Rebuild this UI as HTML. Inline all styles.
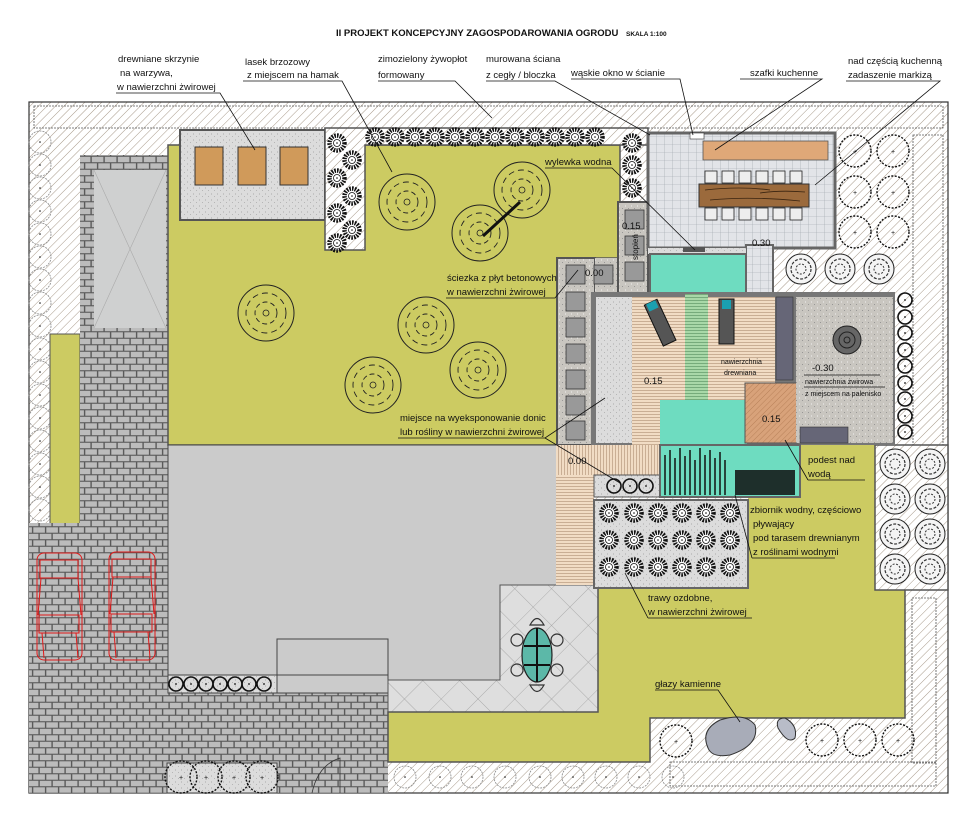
<!DOCTYPE html>
<html><head><meta charset="utf-8"><style>
html,body{margin:0;padding:0;background:#fff}
svg{display:block}
text{font-family:"Liberation Sans",sans-serif;font-size:9.5px;fill:#111}
</style></head><body>
<svg width="973" height="825" viewBox="0 0 973 825" xmlns="http://www.w3.org/2000/svg">
<defs>
<pattern id="hatch" width="6" height="6" patternUnits="userSpaceOnUse" patternTransform="rotate(45)"><rect width="6" height="6" fill="#fff"/><line x1="0" y1="0" x2="0" y2="6" stroke="#a89a8a" stroke-width="1"/></pattern>
<pattern id="brick" width="13" height="13" patternUnits="userSpaceOnUse"><rect width="13" height="13" fill="#5a5a5a"/><rect x="0.8" y="0.8" width="11.6" height="5.4" fill="#bcbcbc"/><rect x="-5.7" y="7.3" width="11.6" height="5.4" fill="#bcbcbc"/><rect x="7.3" y="7.3" width="11.6" height="5.4" fill="#bcbcbc"/></pattern>
<pattern id="tile" width="8" height="8" patternUnits="userSpaceOnUse"><rect width="8" height="8" fill="#e2e4e8"/><path d="M0 0H8M0 0V8" stroke="#9aa0a8" stroke-width="0.6"/></pattern>
<pattern id="gravel" width="6" height="6" patternUnits="userSpaceOnUse"><rect width="6" height="6" fill="#dcdcdc"/><circle cx="1.5" cy="2" r="0.5" fill="#999"/><circle cx="4.5" cy="4.5" r="0.5" fill="#aaa"/></pattern>
<pattern id="gravel2" width="6" height="6" patternUnits="userSpaceOnUse"><rect width="6" height="6" fill="#c9c6c0"/><circle cx="1.5" cy="2" r="0.5" fill="#fff"/><circle cx="4.5" cy="4.5" r="0.5" fill="#888"/></pattern>
<pattern id="woodh" width="4" height="3" patternUnits="userSpaceOnUse"><rect width="4" height="3" fill="#f1dcc4"/><line x1="0" y1="0.5" x2="4" y2="0.5" stroke="#b89a80" stroke-width="0.7"/></pattern>
<pattern id="woodv" width="3" height="4" patternUnits="userSpaceOnUse"><rect width="3" height="4" fill="#f1dcc4"/><line x1="0.5" y1="0" x2="0.5" y2="4" stroke="#b89a80" stroke-width="0.7"/></pattern>
<pattern id="greenstr" width="4" height="3" patternUnits="userSpaceOnUse"><rect width="4" height="3" fill="#a8d8a8"/><line x1="0" y1="0.5" x2="4" y2="0.5" stroke="#6aa070" stroke-width="0.8"/></pattern>
<pattern id="podest" width="4" height="4" patternUnits="userSpaceOnUse" patternTransform="rotate(45)"><rect width="4" height="4" fill="#d8a27a"/><line x1="0" y1="0" x2="0" y2="4" stroke="#b07850" stroke-width="0.8"/></pattern>
<pattern id="diam" width="26" height="26" patternUnits="userSpaceOnUse" patternTransform="rotate(45)"><rect width="26" height="26" fill="#dedede"/><path d="M0 0H26M0 0V26" stroke="#999" stroke-width="0.7"/></pattern>
<g id="tree"><circle r="28" fill="none" stroke="#222" stroke-width="1"/><circle r="20" fill="none" stroke="#222" stroke-width="0.9" stroke-dasharray="6 4"/><circle r="11" fill="none" stroke="#222" stroke-width="0.9" stroke-dasharray="5 3"/><circle r="3" fill="none" stroke="#222" stroke-width="0.8"/></g>
<g id="shrub"><circle r="7.5" fill="#fff" stroke="#111" stroke-width="4.5" stroke-dasharray="1.6 1.1"/><circle r="3.5" fill="#fff" stroke="#111" stroke-width="0.8"/><circle r="0.8" fill="#111"/></g>
<g id="ring"><circle r="7" fill="none" stroke="#111" stroke-width="1.6"/><circle r="0.9" fill="#111"/></g>
<g id="big"><circle r="16" fill="none" stroke="#111" stroke-width="1.4" stroke-dasharray="2 1.5"/><text x="-2" y="3" style="font-size:7px">+</text></g>
<g id="swirl"><circle r="15" fill="#f4f4f4" stroke="#222" stroke-width="1"/><circle r="10" fill="none" stroke="#333" stroke-width="1.2" stroke-dasharray="3 1.5"/><circle r="5" fill="none" stroke="#333" stroke-width="1" stroke-dasharray="2 1.5"/></g>
<g id="hedge"><circle r="11" fill="none" stroke="#888" stroke-width="0.8" stroke-dasharray="2 1"/><circle r="0.8" fill="#111"/></g>
</defs>

<text x="336" y="36" style="font-weight:bold;font-size:9.5px">II PROJEKT KONCEPCYJNY ZAGOSPODAROWANIA OGRODU</text>
<text x="626" y="36" style="font-weight:bold;font-size:6.5px">SKALA 1:100</text>

<rect x="29" y="102" width="919" height="691" fill="url(#hatch)" stroke="#333" stroke-width="1.2"/>
<rect x="34" y="106" width="909" height="22" fill="none" stroke="#555" stroke-width="0.8" stroke-dasharray="2 1"/>
<g>
<use href="#hedge" x="40" y="142"/><use href="#hedge" x="40" y="165"/><use href="#hedge" x="40" y="188"/><use href="#hedge" x="40" y="211"/><use href="#hedge" x="40" y="234"/><use href="#hedge" x="40" y="257"/><use href="#hedge" x="40" y="280"/><use href="#hedge" x="40" y="303"/><use href="#hedge" x="40" y="326"/><use href="#hedge" x="40" y="349"/><use href="#hedge" x="40" y="372"/><use href="#hedge" x="40" y="395"/><use href="#hedge" x="40" y="418"/><use href="#hedge" x="40" y="441"/><use href="#hedge" x="40" y="464"/><use href="#hedge" x="40" y="487"/><use href="#hedge" x="40" y="510"/>
</g>
<rect x="50" y="334" width="30" height="190" fill="#cccb62" stroke="#555" stroke-width="1"/>
<rect x="29" y="523" width="139" height="270" fill="url(#brick)"/>
<rect x="80" y="155" width="100" height="368" fill="url(#brick)"/>
<rect x="168" y="693" width="220" height="100" fill="url(#brick)"/>
<rect x="94" y="170" width="72" height="158" fill="#cfd0d0"/>
<path d="M94 170L166 328M166 170L94 328" stroke="#aaa" stroke-width="0.6"/>
<g fill="none" stroke="#e01818" stroke-width="1">
<rect x="37" y="553" width="45" height="107" rx="7"/><rect x="40" y="560" width="38" height="18"/><rect x="39" y="615" width="40" height="18"/><path d="M41 578L38 615M78 578L81 615M42 633L44 658M76 633L78 658"/>
<rect x="109" y="552" width="46" height="108" rx="7"/><rect x="112" y="559" width="39" height="18"/><rect x="111" y="614" width="41" height="18"/><path d="M113 577L110 614M151 577L154 614M114 632L116 658M148 632L150 658"/>
</g>
<path d="M168 145H620V258H557V445H168Z" fill="#cccb62" stroke="#555" stroke-width="1.5"/>
<rect x="180" y="130" width="145" height="90" fill="url(#gravel)" stroke="#555" stroke-width="2"/>
<rect x="195" y="147" width="28" height="38" fill="#d09a5a" stroke="#333"/>
<rect x="238" y="147" width="28" height="38" fill="#d09a5a" stroke="#333"/>
<rect x="280" y="147" width="28" height="38" fill="#d09a5a" stroke="#333"/>
<path d="M325 128H648V145H365V250H325Z" fill="url(#hatch)" stroke="#555" stroke-width="1.5"/>
<g>
<use href="#shrub" x="337" y="143"/><use href="#shrub" x="352" y="160"/><use href="#shrub" x="337" y="178"/><use href="#shrub" x="352" y="196"/><use href="#shrub" x="337" y="213"/><use href="#shrub" x="352" y="230"/><use href="#shrub" x="337" y="243"/>
<use href="#shrub" x="375" y="137"/><use href="#shrub" x="395" y="137"/><use href="#shrub" x="415" y="137"/><use href="#shrub" x="435" y="137"/><use href="#shrub" x="455" y="137"/><use href="#shrub" x="475" y="137"/><use href="#shrub" x="495" y="137"/><use href="#shrub" x="515" y="137"/><use href="#shrub" x="535" y="137"/><use href="#shrub" x="555" y="137"/><use href="#shrub" x="575" y="137"/><use href="#shrub" x="595" y="137"/>
<use href="#shrub" x="632" y="143"/><use href="#shrub" x="632" y="165"/><use href="#shrub" x="632" y="188"/>
</g>
<use href="#tree" x="407" y="202"/><use href="#tree" x="522" y="190"/><use href="#tree" x="480" y="233"/>
<use href="#tree" x="266" y="313"/><use href="#tree" x="426" y="325"/><use href="#tree" x="478" y="370"/><use href="#tree" x="373" y="385"/>
<path d="M483 236L520 202" stroke="#111" stroke-width="3"/>
<path d="M168 445H557V585H500V680H388V693H168Z" fill="#cbcbcb" stroke="#444" stroke-width="1"/>
<rect x="277" y="639" width="111" height="54" fill="#cbcbcb" stroke="#444"/>
<line x1="277" y1="675" x2="388" y2="675" stroke="#444"/>
<rect x="168" y="675" width="109" height="18" fill="url(#gravel)" stroke="#444"/>
<g><use href="#ring" x="176" y="684"/><use href="#ring" x="191" y="684"/><use href="#ring" x="206" y="684"/><use href="#ring" x="220" y="684"/><use href="#ring" x="235" y="684"/><use href="#ring" x="249" y="684"/><use href="#ring" x="264" y="684"/></g>
<path d="M500 585H598V712H388V680H500Z" fill="url(#diam)" stroke="#555"/>
<ellipse cx="537" cy="655" rx="15" ry="27" fill="#5cb8a8" stroke="#222" stroke-width="1.2"/>
<path d="M537 628V682M524 646H550M524 665H550" stroke="#111" stroke-width="2"/>
<g fill="none" stroke="#333" stroke-width="1.2"><path d="M530 625Q537 612 544 625Z"/><path d="M530 685Q537 698 544 685Z"/><circle cx="517" cy="640" r="6"/><circle cx="557" cy="640" r="6"/><circle cx="517" cy="670" r="6"/><circle cx="557" cy="670" r="6"/></g>
<path d="M598 588H748V588H905V590H905V718H650V762H388V712H598Z" fill="#cccb62" stroke="#555" stroke-width="1.5"/>
<path d="M748 445H875V590H748Z" fill="#cccb62"/>
<rect x="875" y="445" width="73" height="145" fill="url(#hatch)" stroke="#555" stroke-width="1.5"/>
<g><use href="#swirl" x="895" y="464"/><use href="#swirl" x="930" y="464"/><use href="#swirl" x="895" y="499"/><use href="#swirl" x="930" y="499"/><use href="#swirl" x="895" y="534"/><use href="#swirl" x="930" y="534"/><use href="#swirl" x="895" y="569"/><use href="#swirl" x="930" y="569"/></g>
<rect x="912" y="598" width="24" height="165" fill="none" stroke="#555" stroke-width="0.8" stroke-dasharray="2 1"/>
<rect x="670" y="762" width="266" height="24" fill="none" stroke="#555" stroke-width="0.8" stroke-dasharray="2 1"/>
<path d="M708 748Q700 730 720 720Q745 712 755 725Q760 745 730 755Q712 758 708 748Z" fill="#a8acb8" stroke="#333"/>
<path d="M778 728Q775 718 785 718Q798 725 795 738Q788 745 778 728Z" fill="#b8bcc8" stroke="#333"/>
<use href="#big" x="676" y="741"/><use href="#big" x="822" y="740"/><use href="#big" x="860" y="740"/><use href="#big" x="898" y="740"/>
<g><use href="#hedge" x="405" y="777"/><use href="#hedge" x="440" y="777"/><use href="#hedge" x="472" y="777"/><use href="#hedge" x="505" y="777"/><use href="#hedge" x="540" y="777"/><use href="#hedge" x="573" y="777"/><use href="#hedge" x="606" y="777"/><use href="#hedge" x="639" y="777"/><use href="#hedge" x="673" y="777"/></g>
<rect x="167" y="763" width="110" height="30" fill="url(#gravel)" stroke="#444"/>
<g><use href="#big" x="181" y="777"/><use href="#big" x="206" y="777"/><use href="#big" x="234" y="777"/><use href="#big" x="262" y="777"/></g>
<path d="M312 793Q318 765 340 758V793" fill="none" stroke="#333" stroke-width="0.8"/>

<rect x="557" y="258" width="38" height="187" fill="url(#gravel2)" stroke="#555" stroke-width="2"/>
<g fill="#999" stroke="#333" stroke-width="0.8"><rect x="566" y="265" width="19" height="19"/><rect x="566" y="292" width="19" height="19"/><rect x="566" y="318" width="19" height="19"/><rect x="566" y="344" width="19" height="19"/><rect x="566" y="370" width="19" height="19"/><rect x="566" y="396" width="19" height="19"/><rect x="566" y="421" width="19" height="19"/></g>
<rect x="595" y="258" width="25" height="35" fill="url(#gravel2)"/>
<rect x="594" y="265" width="19" height="19" fill="#999" stroke="#333" stroke-width="0.8"/>
<rect x="618" y="202" width="30" height="93" fill="url(#gravel2)" stroke="#555" stroke-width="2"/>
<g fill="#999" stroke="#333" stroke-width="0.8"><rect x="625" y="210" width="19" height="19"/><rect x="625" y="236" width="19" height="19"/><rect x="625" y="262" width="19" height="19"/></g>
<text x="0" y="0" transform="translate(638,260) rotate(-90)" style="font-size:8px">stopień</text>

<rect x="648" y="133" width="187" height="115" fill="url(#tile)" stroke="#666" stroke-width="3"/>
<rect x="690" y="133" width="14" height="6" fill="#fff" stroke="#333" stroke-width="0.6"/>
<rect x="703" y="141" width="125" height="19" fill="#dfa878" stroke="#555" stroke-width="0.8"/>
<g fill="#eee" stroke="#222" stroke-width="0.8">
<rect x="705" y="171" width="12" height="12"/><rect x="722" y="171" width="12" height="12"/><rect x="739" y="171" width="12" height="12"/><rect x="756" y="171" width="12" height="12"/><rect x="773" y="171" width="12" height="12"/><rect x="790" y="171" width="12" height="12"/>
<rect x="705" y="208" width="12" height="12"/><rect x="722" y="208" width="12" height="12"/><rect x="739" y="208" width="12" height="12"/><rect x="756" y="208" width="12" height="12"/><rect x="773" y="208" width="12" height="12"/><rect x="790" y="208" width="12" height="12"/>
</g>
<rect x="699" y="184" width="110" height="23" fill="#9b6a3c" stroke="#333"/>
<path d="M705 190Q740 186 770 190M710 200Q750 196 800 201M760 193Q780 190 805 192" stroke="#3a2410" stroke-width="0.8" fill="none"/>
<rect x="746" y="245" width="27" height="52" fill="url(#tile)" stroke="#666" stroke-width="2"/>
<rect x="648" y="248" width="98" height="6" fill="url(#gravel)"/>
<rect x="650" y="254" width="96" height="40" fill="#6edcc0" stroke="#666" stroke-width="2"/>
<rect x="683" y="247" width="22" height="5" fill="#555"/>
<g><use href="#big" x="855" y="151"/><use href="#big" x="893" y="151"/><use href="#big" x="855" y="192"/><use href="#big" x="893" y="192"/><use href="#big" x="855" y="232"/><use href="#big" x="893" y="232"/></g>
<g><use href="#swirl" x="801" y="269"/><use href="#swirl" x="840" y="269"/><use href="#swirl" x="879" y="269"/></g>
<rect x="913" y="135" width="30" height="310" fill="none" stroke="#555" stroke-width="0.8" stroke-dasharray="2 1"/>

<rect x="591" y="292" width="304" height="153" fill="#777"/>
<rect x="596" y="297" width="36" height="146" fill="url(#gravel)"/>
<rect x="632" y="297" width="53" height="103" fill="url(#woodh)"/>
<rect x="632" y="400" width="28" height="45" fill="url(#woodh)"/>
<rect x="685" y="294" width="23" height="106" fill="url(#greenstr)"/>
<rect x="708" y="297" width="67" height="103" fill="url(#woodh)"/>
<rect x="660" y="400" width="87" height="45" fill="#6edcc0"/>
<rect x="745" y="383" width="53" height="60" fill="url(#podest)" stroke="#555"/>
<rect x="776" y="297" width="17" height="83" fill="#667" stroke="#333" stroke-width="0.6"/>
<rect x="796" y="297" width="97" height="146" fill="url(#gravel2)"/>
<rect x="800" y="427" width="48" height="16" fill="#667" stroke="#333" stroke-width="0.6"/>
<circle cx="847" cy="340" r="14" fill="#666" stroke="#222"/><circle cx="847" cy="340" r="8" fill="none" stroke="#222"/><circle cx="847" cy="340" r="3" fill="none" stroke="#222"/>
<g transform="rotate(-25 660 320)"><rect x="652" y="300" width="14" height="45" fill="#555" stroke="#111"/><rect x="654" y="300" width="10" height="8" fill="#1aa0b0"/></g>
<g><rect x="719" y="299" width="15" height="45" fill="#555" stroke="#111"/><rect x="722" y="300" width="9" height="9" fill="#1aa0b0"/></g>
<g><use href="#ring" x="905" y="300"/><use href="#ring" x="905" y="317"/><use href="#ring" x="905" y="333"/><use href="#ring" x="905" y="350"/><use href="#ring" x="905" y="366"/><use href="#ring" x="905" y="383"/><use href="#ring" x="905" y="399"/><use href="#ring" x="905" y="416"/><use href="#ring" x="905" y="432"/></g>
<rect x="556" y="445" width="104" height="30" fill="url(#woodv)"/>
<rect x="556" y="475" width="38" height="110" fill="url(#woodh)"/>
<rect x="594" y="475" width="66" height="22" fill="url(#gravel)" stroke="#555"/>
<g><use href="#ring" x="614" y="486"/><use href="#ring" x="630" y="486"/><use href="#ring" x="646" y="486"/></g>
<rect x="660" y="445" width="140" height="52" fill="#6edcc0" stroke="#666" stroke-width="2"/>
<g stroke="#111" stroke-width="1.5"><path d="M665 495V455M670 495V450M675 495V458M680 495V448M685 495V456M690 495V450M695 495V460M700 495V448M705 495V455M710 495V450M715 495V458M720 495V452M725 495V460"/></g>
<rect x="735" y="470" width="60" height="25" fill="#111" opacity="0.85"/>
<rect x="594" y="500" width="154" height="88" fill="url(#gravel)" stroke="#666" stroke-width="2"/>
<g>
<use href="#shrub" x="609" y="513"/><use href="#shrub" x="634" y="513"/><use href="#shrub" x="658" y="513"/><use href="#shrub" x="682" y="513"/><use href="#shrub" x="706" y="513"/><use href="#shrub" x="730" y="513"/>
<use href="#shrub" x="609" y="540"/><use href="#shrub" x="634" y="540"/><use href="#shrub" x="658" y="540"/><use href="#shrub" x="682" y="540"/><use href="#shrub" x="706" y="540"/><use href="#shrub" x="730" y="540"/>
<use href="#shrub" x="609" y="567"/><use href="#shrub" x="634" y="567"/><use href="#shrub" x="658" y="567"/><use href="#shrub" x="682" y="567"/><use href="#shrub" x="706" y="567"/><use href="#shrub" x="730" y="567"/>
</g>

<g style="font-size:8px">
<text x="622" y="229">0.15</text><text x="585" y="276">0.00</text><text x="752" y="246">0.30</text>
<text x="644" y="384">0.15</text><text x="762" y="422">0.15</text><text x="812" y="371">-0.30</text><text x="568" y="464">0.00</text>
<text x="721" y="364" style="font-size:7px">nawierzchnia</text><text x="724" y="375" style="font-size:7px">drewniana</text>
<text x="805" y="384" style="font-size:7px">nawierzchnia żwirowa</text><text x="805" y="396" style="font-size:7px">z miejscem na palenisko</text>
</g>
<g stroke="#111" stroke-width="0.7" fill="none">
<line x1="804" y1="375" x2="880" y2="375"/><line x1="804" y1="387" x2="885" y2="387"/>
</g>

<text x="118" y="62">drewniane skrzynie</text><text x="120" y="76">na warzywa,</text><text x="117" y="90">w nawierzchni żwirowej</text>
<text x="245" y="65">lasek brzozowy</text><text x="247" y="78">z miejscem na hamak</text>
<text x="378" y="62">zimozielony żywopłot</text><text x="378" y="78">formowany</text>
<text x="486" y="62">murowana ściana</text><text x="486" y="78">z cegły / bloczka</text>
<text x="571" y="76">wąskie okno w ścianie</text>
<text x="750" y="76">szafki kuchenne</text>
<text x="848" y="64">nad częścią kuchenną</text><text x="848" y="78">zadaszenie markizą</text>
<text x="545" y="165">wylewka wodna</text>
<text x="447" y="281">ściezka z płyt betonowych</text><text x="447" y="295">w nawierzchni żwirowej</text>
<text x="400" y="421">miejsce na wyeksponowanie donic</text><text x="400" y="435">lub rośliny w nawierzchni żwirowej</text>
<text x="808" y="463">podest nad</text><text x="808" y="477">wodą</text>
<text x="750" y="513">zbiornik wodny, częściowo</text><text x="753" y="527">pływający</text><text x="753" y="541">pod tarasem drewnianym</text><text x="753" y="555">z roślinami wodnymi</text>
<text x="648" y="601">trawy ozdobne,</text><text x="648" y="615">w nawierzchni żwirowej</text>
<text x="655" y="687">głazy kamienne</text>
<g stroke="#111" stroke-width="0.8" fill="none">
<path d="M116 93H220L255 150"/>
<path d="M243 81H342L392 172"/>
<path d="M378 81H455L492 118"/>
<path d="M486 81H555L650 135"/>
<path d="M571 79H680L693 135"/>
<path d="M740 79H822L715 150"/>
<path d="M846 81H940L815 185"/>
<path d="M545 168H612L695 250"/>
<path d="M446 298H555L578 270"/>
<path d="M398 438H545L605 398M545 438L620 483"/>
<path d="M808 480H865M808 480L785 440"/>
<path d="M752 558H835M752 558L735 495"/>
<path d="M648 618H752M648 618L625 573"/>
<path d="M655 690H718L740 722"/>
</g>
</svg>
</body></html>
